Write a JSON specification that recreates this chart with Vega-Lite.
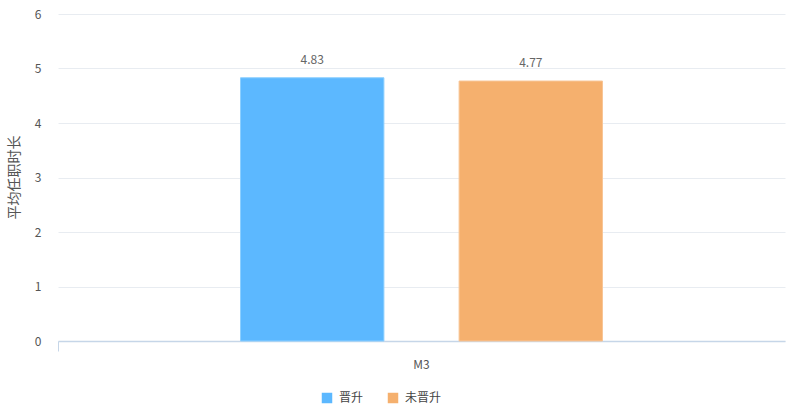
{
  "$schema": "https://vega.github.io/schema/vega-lite/v6.json",
  "width": 727,
  "height": 327,
  "autosize": "none",
  "padding": {"left": 58, "top": 14, "right": 9, "bottom": 74},
  "background": "white",
  "config": {
    "view": {"stroke": null},
    "font": "Noto Sans CJK SC"
  },
  "data": {
    "values": [
      {"group": "M3", "status": "晋升", "value": 4.83},
      {"group": "M3", "status": "未晋升", "value": 4.77}
    ]
  },
  "encoding": {
    "x": {
      "field": "group", "type": "nominal", "title": null,
      "scale": {"paddingInner": 0, "paddingOuter": 0},
      "axis": {
        "labelAngle": 0, "labelColor": "#555", "labelFontSize": 12, "labelPadding": 8,
        "domainColor": "#c6d6e8", "domainWidth": 1.5,
        "tickColor": "#c6d6e8", "tickSize": 10, "bandPosition": 0, "grid": false
      }
    },
    "xOffset": {
      "field": "status", "type": "nominal", "sort": ["晋升", "未晋升"],
      "scale": {"paddingInner": 0.344, "paddingOuter": 0.835}
    },
    "y": {
      "field": "value", "type": "quantitative",
      "scale": {"domain": [0, 6]},
      "axis": {
        "title": "平均任职时长", "titleColor": "#555", "titleFontSize": 14, "titleFontWeight": "normal",
        "titleX": -44, "titleY": 163, "titleAngle": -90, "titleAlign": "center", "titleBaseline": "middle",
        "tickCount": 6, "ticks": false, "domain": false, "labelPadding": 17,
        "labelColor": "#555", "labelFontSize": 12,
        "gridColor": "#e8ecf1"
      }
    }
  },
  "layer": [
    {
      "mark": {"type": "bar", "strokeWidth": 1},
      "encoding": {
        "color": {
          "field": "status", "type": "nominal", "sort": ["晋升", "未晋升"],
          "scale": {"domain": ["晋升", "未晋升"], "range": ["#5cb8ff", "#f5b06e"]},
          "legend": {
            "title": null, "orient": "none", "direction": "horizontal",
            "legendX": 263, "legendY": 378,
            "symbolType": "square", "symbolSize": 110, "symbolStrokeWidth": 0,
            "labelFontSize": 12, "labelColor": "#444", "labelOffset": 6, "columnPadding": 23
          }
        },
        "stroke": {
          "field": "status", "type": "nominal",
          "scale": {"domain": ["晋升", "未晋升"], "range": ["#8ccfff", "#f8c596"]},
          "legend": null
        }
      }
    },
    {
      "mark": {"type": "text", "dy": -11, "baseline": "bottom", "fontSize": 12, "color": "#666"},
      "encoding": {
        "text": {"field": "value", "type": "quantitative", "format": ".2f"}
      }
    }
  ]
}
